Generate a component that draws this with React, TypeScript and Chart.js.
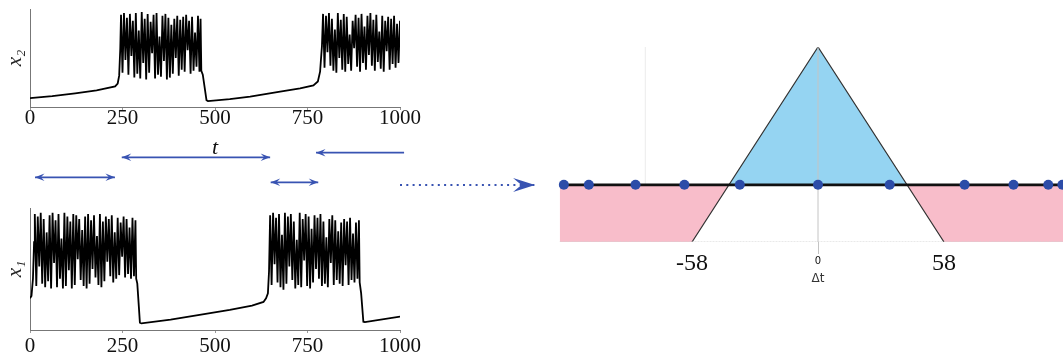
import React, { useEffect, useRef } from 'react';
import { Chart, registerables } from 'chart.js';

Chart.register(...registerables);

// ---------- time-series data (t in 0..1000, activity in 0..1) ----------
const timeTicks = [0, 250, 500, 750, 1000];
const burstStep = 4;

const x2Lead = [[0, 0.09], [60, 0.11], [122, 0.14], [180, 0.17], [230, 0.21], [237, 0.24], [241, 0.32], [244, 0.6]];
const x2Burst1Start = 246;
const x2Burst1 = [
  0.94, 0.35, 0.96, 0.48, 0.91, 0.33, 0.95, 0.52, 0.88, 0.30, 0.96, 0.34,
  0.78, 0.29, 0.97, 0.45, 0.90, 0.28, 0.95, 0.35, 0.87, 0.55, 0.94, 0.29,
  0.96, 0.33, 0.72, 0.31, 0.93, 0.47, 0.95, 0.28, 0.91, 0.30, 0.84, 0.34,
  0.90, 0.50, 0.93, 0.32, 0.89, 0.38, 0.92, 0.36, 0.94, 0.58, 0.88, 0.34,
  0.92, 0.37, 0.76, 0.41, 0.93, 0.36,
];
const x2Mid = [[461, 0.9], [463, 0.37], [467, 0.33], [472, 0.2], [477, 0.07], [481, 0.06], [540, 0.08], [595, 0.105], [676, 0.156], [730, 0.19], [766, 0.22], [778, 0.26], [784, 0.36], [789, 0.62]];
const x2Burst2Start = 792;
const x2Burst2 = [
  0.95, 0.40, 0.93, 0.56, 0.96, 0.42, 0.90, 0.37, 0.79, 0.35, 0.96, 0.50,
  0.89, 0.38, 0.95, 0.36, 0.92, 0.44, 0.74, 0.37, 0.88, 0.60, 0.94, 0.41,
  0.91, 0.36, 0.95, 0.45, 0.82, 0.38, 0.93, 0.53, 0.96, 0.42, 0.89, 0.37,
  0.94, 0.46, 0.77, 0.39, 0.93, 0.36, 0.88, 0.57, 0.92, 0.38, 0.90, 0.44,
  0.93, 0.40, 0.85, 0.45,
];
const x2Tail = [[1000, 0.88]];

const x1Lead = [[0, 0.26], [4, 0.28], [8, 0.42], [11, 0.72]];
const x1Burst1Start = 13;
const x1Burst1 = [
  0.95, 0.36, 0.93, 0.52, 0.96, 0.38, 0.91, 0.35, 0.80, 0.40, 0.94, 0.34,
  0.96, 0.55, 0.90, 0.35, 0.95, 0.42, 0.75, 0.34, 0.96, 0.36, 0.93, 0.49,
  0.89, 0.34, 0.95, 0.37, 0.94, 0.58, 0.91, 0.41, 0.82, 0.36, 0.93, 0.34,
  0.95, 0.38, 0.90, 0.50, 0.94, 0.43, 0.77, 0.37, 0.95, 0.35, 0.89, 0.40,
  0.93, 0.56, 0.91, 0.44, 0.94, 0.39, 0.80, 0.42, 0.92, 0.45, 0.88, 0.60,
  0.93, 0.43, 0.91, 0.46, 0.84, 0.42, 0.92, 0.44, 0.90,
];
const x1Mid = [[287, 0.42], [290, 0.38], [294, 0.2], [297, 0.06], [301, 0.055], [380, 0.085], [450, 0.12], [540, 0.165], [600, 0.2], [631, 0.23], [638, 0.26], [643, 0.3], [646, 0.48]];
const x1Burst2Start = 649;
const x1Burst2 = [
  0.94, 0.37, 0.96, 0.54, 0.92, 0.39, 0.95, 0.35, 0.78, 0.33, 0.96, 0.38,
  0.93, 0.52, 0.95, 0.41, 0.89, 0.34, 0.74, 0.37, 0.96, 0.35, 0.91, 0.57,
  0.95, 0.36, 0.93, 0.34, 0.83, 0.39, 0.94, 0.50, 0.92, 0.42, 0.95, 0.36,
  0.89, 0.38, 0.76, 0.35, 0.91, 0.55, 0.94, 0.37, 0.90, 0.41, 0.81, 0.38,
  0.88, 0.36, 0.91, 0.53, 0.89, 0.37, 0.92, 0.41, 0.79, 0.39, 0.88, 0.42, 0.90,
];
const x1Tail = [[891, 0.39], [895, 0.3], [901, 0.068], [905, 0.065], [1000, 0.11]];

// ---------- interval arrows (in t units) ----------
const arrowStarts = [13.5, 248, 650.5, 773, 1000];
const arrowEnds = [229.5, 649, 779, 1011, 1365];
const arrowLevels = [3.78, 7.12, 2.95, 7.88, 2.5];
const arrowHeadAtStart = [true, true, true, true, false];
const arrowHeadAtEnd = [true, true, true, false, true];
const arrowDotted = [false, false, false, false, true];

// ---------- STDP-like kernel ----------
const kernelDt = [-119, -58, 0, 58, 119];
const kernelW = [-0.415, -0.415, 1, -0.415, -0.415];
const spikeDt = [-117, -105.5, -84, -61.5, -36, 0, 33, 67.5, 90, 106, 112.5];
const kernelTicks = [-58, 0, 58];
const faintGridDt = -79.5;

const SERIF = "'Liberation Serif', 'DejaVu Serif', serif";
const SANS = "'DejaVu Sans', 'Noto Sans', sans-serif";
const BLUE = '#3853b2';

function buildSeries(lead, b1Start, b1, mid, b2Start, b2, tail) {
  const pts = [];
  lead.forEach(([x, y]) => pts.push({ x, y }));
  b1.forEach((y, i) => pts.push({ x: b1Start + i * burstStep, y }));
  mid.forEach(([x, y]) => pts.push({ x, y }));
  b2.forEach((y, i) => pts.push({ x: b2Start + i * burstStep, y }));
  tail.forEach(([x, y]) => pts.push({ x, y }));
  return pts;
}

function timeSeriesConfig(points, label, padTop, axisH, tickPad, showTitle) {
  return {
    type: 'line',
    data: {
      datasets: [{
        data: points,
        borderColor: '#000',
        borderWidth: 1.8,
        pointRadius: 0,
        tension: 0,
        fill: false,
      }],
    },
    options: {
      responsive: false,
      animation: false,
      layout: { padding: { left: 0, right: 30, top: padTop, bottom: 0 }, autoPadding: false },
      plugins: { legend: { display: false }, tooltip: { enabled: false } },
      scales: {
        x: {
          type: 'linear',
          min: 0,
          max: 1000,
          afterBuildTicks: (axis) => { axis.ticks = timeTicks.map((v) => ({ value: v })); },
          afterFit: (axis) => { axis.height = axisH; },
          grid: { display: true, drawOnChartArea: false, drawTicks: true, tickLength: 3, color: '#999' },
          border: { display: true, color: '#777', width: 1 },
          ticks: {
            autoSkip: false,
            maxRotation: 0,
            padding: tickPad,
            color: '#111',
            font: { family: SERIF, size: 21, lineHeight: 1 },
            callback: (v) => String(v),
          },
          title: {
            display: showTitle,
            text: 't',
            color: '#111',
            font: { family: SERIF, size: 22, style: 'italic' },
            padding: { top: 0, bottom: 4 },
          },
        },
        y: {
          min: 0,
          max: 1,
          afterFit: (axis) => { axis.width = 30; },
          grid: { display: false },
          border: { display: true, color: '#777', width: 1 },
          ticks: { display: false },
          title: {
            display: true,
            text: label,
            color: '#222',
            font: { family: SERIF, size: 21, style: 'italic' },
            padding: { top: 3, bottom: 0 },
          },
        },
      },
    },
  };
}

function drawHead(ctx, tx, ty, dx, dy, L, W, color) {
  const len = Math.hypot(dx, dy) || 1;
  const ux = dx / len;
  const uy = dy / len;
  const px = -uy;
  const py = ux;
  ctx.save();
  ctx.fillStyle = color;
  ctx.beginPath();
  ctx.moveTo(tx, ty);
  ctx.lineTo(tx - ux * L + px * W, ty - uy * L + py * W);
  ctx.lineTo(tx - ux * L * 0.62, ty - uy * L * 0.62);
  ctx.lineTo(tx - ux * L - px * W, ty - uy * L - py * W);
  ctx.closePath();
  ctx.fill();
  ctx.restore();
}

const arrowPlugin = {
  id: 'arrowHeads',
  afterDatasetsDraw(chart) {
    const ctx = chart.ctx;
    chart.data.datasets.forEach((ds, i) => {
      const pts = chart.getDatasetMeta(i).data;
      if (pts.length < 2) return;
      const a = pts[0];
      const b = pts[pts.length - 1];
      if (ds.headStart) drawHead(ctx, a.x, a.y, a.x - b.x, a.y - b.y, ds.headLen, ds.headHalf, ds.borderColor);
      if (ds.headEnd) drawHead(ctx, b.x, b.y, b.x - a.x, b.y - a.y, ds.headLen, ds.headHalf, ds.borderColor);
    });
  },
};

function arrowsConfig() {
  return {
    type: 'line',
    data: {
      datasets: arrowStarts.map((s, i) => ({
        data: [{ x: s, y: arrowLevels[i] }, { x: arrowEnds[i], y: arrowLevels[i] }],
        borderColor: BLUE,
        borderWidth: arrowDotted[i] ? 2.2 : 1.8,
        borderDash: arrowDotted[i] ? [2, 4.3] : [],
        pointRadius: 0,
        clip: false,
        headStart: arrowHeadAtStart[i],
        headEnd: arrowHeadAtEnd[i],
        headLen: arrowDotted[i] ? 22 : 9.5,
        headHalf: arrowDotted[i] ? 7 : 3.8,
      })),
    },
    options: {
      responsive: false,
      animation: false,
      layout: { padding: 0, autoPadding: false },
      plugins: { legend: { display: false }, tooltip: { enabled: false } },
      scales: {
        x: { type: 'linear', min: 0, max: 540 / 0.37, display: false },
        y: { min: 0, max: 10, display: false },
      },
    },
    plugins: [arrowPlugin],
  };
}

function kernelConfig() {
  const zeroY = 0;
  const bottomW = kernelW[0];
  return {
    type: 'line',
    data: {
      datasets: [
        {
          data: spikeDt.map((x) => ({ x, y: zeroY })),
          showLine: false,
          pointRadius: 5,
          pointBackgroundColor: '#2c4ca8',
          pointBorderWidth: 0,
          clip: false,
        },
        {
          data: [{ x: kernelDt[0], y: zeroY }, { x: kernelDt[kernelDt.length - 1], y: zeroY }],
          borderColor: '#111',
          borderWidth: 2.8,
          pointRadius: 0,
          clip: false,
        },
        {
          data: [{ x: 0, y: bottomW }, { x: 0, y: 1 }],
          borderColor: '#c4c4c4',
          borderWidth: 1,
          pointRadius: 0,
        },
        {
          data: [{ x: kernelDt[0], y: bottomW }, { x: kernelDt[kernelDt.length - 1], y: bottomW }],
          borderColor: '#d2d2d2',
          borderWidth: 1,
          borderDash: [2, 1],
          pointRadius: 0,
        },
        {
          data: kernelDt.map((x, i) => ({ x, y: kernelW[i] })),
          borderColor: '#333',
          borderWidth: 1.2,
          pointRadius: 0,
          tension: 0,
          fill: { target: { value: 0 }, above: '#95d4f2', below: '#f8bdca' },
          segment: {
            borderColor: (c) => (c.p0DataIndex === 1 || c.p0DataIndex === 2 ? '#333' : 'rgba(0,0,0,0)'),
          },
        },
        {
          data: [{ x: faintGridDt, y: 0 }, { x: faintGridDt, y: 1 }],
          borderColor: '#ececec',
          borderWidth: 1,
          pointRadius: 0,
        },
      ],
    },
    options: {
      responsive: false,
      animation: false,
      layout: { padding: { left: 9.5, right: 13.5, top: 10, bottom: 0 }, autoPadding: false },
      plugins: { legend: { display: false }, tooltip: { enabled: false } },
      scales: {
        x: {
          type: 'linear',
          min: kernelDt[0],
          max: kernelDt[kernelDt.length - 1],
          afterBuildTicks: (axis) => { axis.ticks = kernelTicks.map((v) => ({ value: v })); },
          afterFit: (axis) => { axis.height = 50; },
          border: { display: false },
          grid: {
            display: true,
            drawOnChartArea: false,
            drawTicks: true,
            tickLength: 12,
            color: (c) => (c.tick && c.tick.value === 0 ? '#c4c4c4' : 'rgba(0,0,0,0)'),
          },
          ticks: {
            autoSkip: false,
            maxRotation: 0,
            padding: -2,
            color: '#111',
            callback: (v) => String(v),
            font: (c) => (c.tick && c.tick.value === 0
              ? { family: SANS, size: 10, lineHeight: '18px' }
              : { family: SERIF, size: 24, lineHeight: 1 }),
          },
          title: {
            display: true,
            text: 'Δt',
            color: '#333',
            font: { family: SANS, size: 12 },
            padding: { top: 0, bottom: 6 },
          },
        },
        y: { min: bottomW, max: 1, display: false },
      },
    },
  };
}

function ChartBox({ left, top, width, height, make }) {
  const ref = useRef(null);
  useEffect(() => {
    const chart = new Chart(ref.current, make());
    return () => chart.destroy();
  }, []);
  return (
    <canvas
      ref={ref}
      width={width}
      height={height}
      style={{ position: 'absolute', left, top, width, height }}
    />
  );
}

export default function App() {
  const x2Points = buildSeries(x2Lead, x2Burst1Start, x2Burst1, x2Mid, x2Burst2Start, x2Burst2, x2Tail);
  const x1Points = buildSeries(x1Lead, x1Burst1Start, x1Burst1, x1Mid, x1Burst2Start, x1Burst2, x1Tail);
  return (
    <div style={{ position: 'fixed', left: 0, top: 0, width: 1063, height: 359, overflow: 'hidden', background: '#fff' }}>
      <ChartBox left={0} top={0} width={430} height={165} make={() => timeSeriesConfig(x2Points, 'x₂', 9, 58, -2, true)} />
      <ChartBox left={0} top={195} width={430} height={164} make={() => timeSeriesConfig(x1Points, 'x₁', 13, 29, 3, false)} />
      <ChartBox left={30} top={140} width={540} height={60} make={arrowsConfig} />
      <ChartBox left={550} top={37} width={540} height={255} make={kernelConfig} />
    </div>
  );
}
